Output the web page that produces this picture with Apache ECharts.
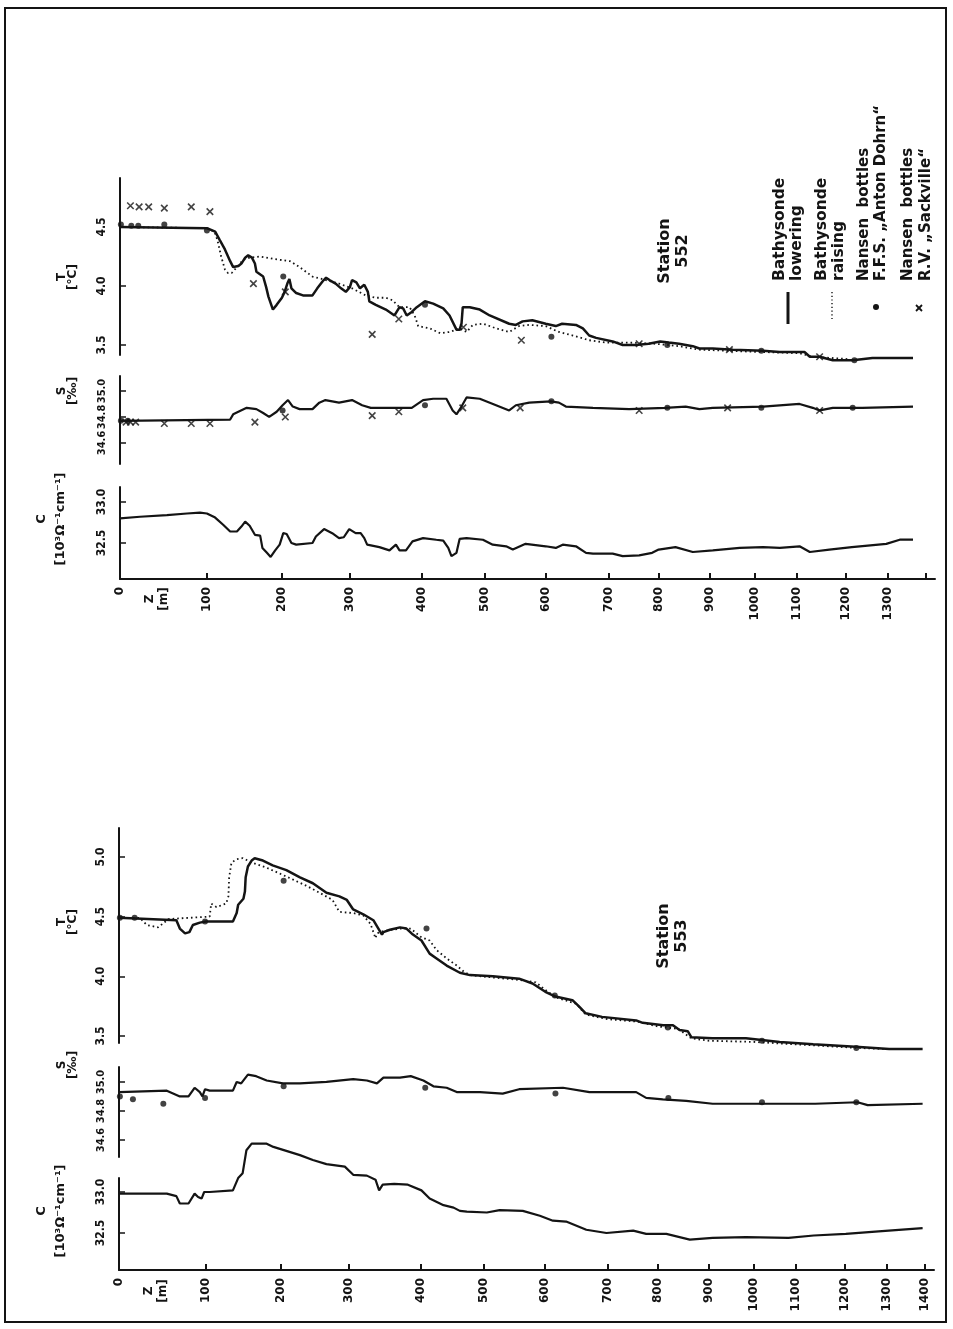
<!DOCTYPE html>
<html>
<head>
<meta charset="UTF-8">
<title>Bathysonde stations 552 / 553</title>
<style>
  body { margin: 0; background: #fff; }
  #main { width: 953px; height: 1329px; }
</style>
<script src="https://cdn.jsdelivr.net/npm/echarts@6/dist/echarts.min.js"></script>
</head>
<body>
<div id="main"></div>
<script>
// Z axis of the plate is not linear: where each depth tick sits (0..1 of the 0-1400 m span)
var depthTicks = [0, 100, 200, 300, 400, 500, 600, 700, 800, 900, 1000, 1100, 1200, 1300, 1400];
var depthTickPlace = [0, 0.1079, 0.2010, 0.2854, 0.3747, 0.4529, 0.5285, 0.6067, 0.6687, 0.7320, 0.7878, 0.8400, 0.9007, 0.9529, 1];

// value axis ticks
var tTicks552 = [3.5, 4.0, 4.5];
var tTicks553 = [3.5, 4.0, 4.5, 5.0];
var sTicks = [34.6, 34.8, 35.0];
var cTicks = [32.5, 33.0];

// ---- Station 552 ----  [depth m, value]
var st552TLower = [[0,4.50],[100,4.49],[111,4.46],[117,4.39],[124,4.31],[131,4.21],[135,4.16],[142,4.17],[146,4.19],[151,4.24],[155,4.26],[160,4.24],[164,4.19],[166,4.12],[175,4.08],[179,3.99],[182,3.91],[188,3.80],[193,3.84],[200,3.90],[204,3.95],[208,4.02],[211,4.06],[214,3.98],[221,3.94],[231,3.92],[245,3.92],[252,3.98],[260,4.04],[265,4.07],[270,4.05],[279,4.02],[287,3.98],[294,3.95],[300,3.99],[303,4.05],[309,4.03],[314,3.98],[320,4.01],[325,3.95],[327,3.87],[336,3.84],[350,3.80],[362,3.75],[369,3.82],[374,3.81],[379,3.75],[386,3.78],[393,3.82],[405,3.87],[418,3.85],[434,3.81],[444,3.75],[455,3.63],[460,3.63],[463,3.68],[465,3.82],[476,3.82],[492,3.80],[508,3.75],[540,3.68],[551,3.67],[562,3.70],[578,3.71],[600,3.68],[616,3.66],[626,3.68],[648,3.67],[659,3.64],[669,3.58],[680,3.56],[708,3.53],[728,3.50],[754,3.50],[780,3.51],[803,3.53],[820,3.52],[840,3.51],[867,3.49],[880,3.47],[907,3.47],[952,3.46],[1020,3.45],[1060,3.44],[1116,3.44],[1127,3.40],[1147,3.40],[1174,3.37],[1217,3.37],[1264,3.39],[1323,3.39],[1367,3.39]];
var st552TRaise = [[0,4.50],[100,4.49],[110,4.46],[114,4.39],[119,4.25],[124,4.14],[128,4.11],[133,4.11],[140,4.16],[148,4.22],[157,4.24],[171,4.25],[188,4.23],[212,4.21],[226,4.16],[245,4.08],[265,4.05],[284,4.02],[303,3.98],[322,3.92],[336,3.90],[350,3.90],[359,3.88],[369,3.82],[383,3.82],[390,3.75],[395,3.66],[413,3.64],[429,3.60],[444,3.61],[460,3.64],[471,3.61],[481,3.67],[497,3.68],[519,3.64],[540,3.61],[556,3.66],[573,3.67],[600,3.66],[621,3.61],[643,3.58],[669,3.54],[696,3.52],[741,3.52],[794,3.51],[840,3.49],[880,3.46],[944,3.45],[1019,3.44],[1106,3.43],[1133,3.40],[1208,3.38]];
var st552TDohrn = [[1,4.52],[13,4.51],[21,4.51],[51,4.52],[100,4.47],[202,4.08],[405,3.84],[609,3.57],[817,3.50],[1016,3.45],[1221,3.37]];
var st552TSackville = [[12,4.68],[22,4.67],[33,4.67],[51,4.66],[82,4.67],[104,4.63],[162,4.02],[205,3.95],[331,3.59],[368,3.72],[466,3.65],[560,3.54],[761,3.51],[944,3.46],[1147,3.40]];

var st552SLower = [[0,34.77],[131,34.78],[135,34.82],[153,34.87],[166,34.86],[175,34.83],[183,34.80],[193,34.84],[201,34.89],[209,34.93],[216,34.88],[226,34.86],[245,34.86],[255,34.91],[264,34.93],[284,34.91],[303,34.93],[317,34.89],[329,34.87],[369,34.87],[386,34.87],[402,34.93],[418,34.94],[439,34.94],[449,34.85],[455,34.82],[463,34.88],[471,34.95],[492,34.94],[540,34.85],[551,34.89],[573,34.91],[608,34.92],[621,34.91],[632,34.88],[675,34.87],[741,34.86],[813,34.87],[853,34.88],[880,34.86],[907,34.87],[1020,34.88],[1106,34.90],[1133,34.87],[1147,34.85],[1174,34.87],[1240,34.87],[1367,34.88]];
var st552SDohrn = [[1,34.77],[9,34.77],[201,34.85],[405,34.89],[609,34.92],[817,34.87],[1016,34.87],[1217,34.87]];
var st552SSackville = [[7,34.76],[12,34.76],[18,34.76],[51,34.75],[82,34.75],[104,34.75],[164,34.76],[205,34.80],[331,34.81],[368,34.84],[465,34.87],[558,34.87],[761,34.85],[940,34.87],[1147,34.85]];

var st552C = [[0,32.80],[23,32.82],[54,32.84],[77,32.86],[92,32.87],[100,32.86],[111,32.81],[122,32.72],[131,32.64],[140,32.64],[146,32.70],[151,32.76],[157,32.71],[164,32.60],[171,32.59],[174,32.44],[180,32.38],[185,32.33],[191,32.41],[197,32.48],[202,32.62],[207,32.61],[214,32.50],[221,32.48],[245,32.50],[250,32.58],[262,32.67],[274,32.62],[284,32.56],[291,32.57],[299,32.67],[308,32.62],[315,32.62],[320,32.56],[324,32.48],[341,32.45],[355,32.41],[364,32.48],[369,32.41],[378,32.41],[387,32.52],[402,32.56],[423,32.54],[434,32.53],[442,32.44],[447,32.34],[455,32.38],[460,32.55],[471,32.56],[497,32.54],[513,32.48],[535,32.46],[546,32.42],[567,32.49],[600,32.46],[616,32.44],[627,32.48],[648,32.46],[664,32.38],[675,32.37],[708,32.37],[728,32.34],[761,32.35],[787,32.38],[800,32.42],[833,32.45],[867,32.39],[907,32.41],[967,32.44],[1020,32.45],[1060,32.44],[1106,32.46],[1127,32.39],[1167,32.42],[1215,32.45],[1297,32.49],[1332,32.54],[1367,32.54]];

// ---- Station 553 ----
var st553TLower = [[0,4.49],[66,4.47],[70,4.40],[76,4.36],[81,4.37],[85,4.43],[93,4.45],[100,4.46],[136,4.46],[141,4.53],[143,4.60],[150,4.65],[152,4.71],[153,4.83],[156,4.92],[161,4.97],[165,4.99],[176,4.97],[189,4.93],[208,4.89],[228,4.83],[247,4.78],[267,4.70],[286,4.67],[297,4.64],[306,4.56],[320,4.52],[334,4.47],[341,4.40],[346,4.35],[348,4.37],[357,4.39],[371,4.41],[380,4.40],[389,4.35],[401,4.30],[414,4.19],[425,4.15],[441,4.09],[462,4.03],[478,4.01],[515,4.00],[558,3.98],[580,3.94],[601,3.87],[617,3.83],[644,3.80],[654,3.75],[665,3.69],[691,3.66],[757,3.63],[770,3.61],[811,3.59],[830,3.59],[843,3.55],[859,3.54],[866,3.49],[908,3.48],[983,3.48],[1062,3.45],[1136,3.43],[1226,3.41],[1307,3.39],[1395,3.39]];
var st553TRaise = [[0,4.49],[24,4.49],[32,4.43],[45,4.41],[57,4.48],[105,4.50],[107,4.61],[114,4.58],[127,4.61],[130,4.67],[131,4.83],[134,4.95],[140,4.98],[149,4.99],[156,4.97],[163,4.95],[181,4.91],[199,4.86],[218,4.81],[237,4.76],[257,4.70],[276,4.64],[286,4.54],[306,4.53],[320,4.51],[330,4.44],[337,4.32],[339,4.36],[348,4.38],[371,4.40],[386,4.40],[400,4.33],[414,4.30],[425,4.22],[441,4.15],[457,4.09],[468,4.04],[478,4.01],[515,3.99],[558,3.97],[585,3.95],[605,3.87],[620,3.82],[650,3.77],[665,3.68],[700,3.64],[760,3.62],[800,3.58],[840,3.56],[866,3.48],[900,3.46],[1000,3.45],[1100,3.43],[1230,3.40],[1300,3.39]];
var st553TDohrn = [[1,4.49],[18,4.49],[99,4.46],[204,4.80],[409,4.40],[616,3.84],[820,3.57],[1020,3.46],[1228,3.40]];

var st553SLower = [[0,34.93],[55,34.94],[70,34.90],[80,34.90],[87,34.96],[93,34.93],[96,34.90],[99,34.95],[105,34.94],[136,34.94],[141,35.00],[147,34.99],[156,35.05],[167,35.04],[181,35.01],[203,34.99],[228,34.99],[267,35.00],[306,35.02],[325,35.01],[339,34.99],[348,35.03],[371,35.03],[386,35.04],[404,35.01],[420,34.97],[441,34.96],[457,34.93],[494,34.93],[531,34.92],[558,34.95],[629,34.96],[671,34.93],[757,34.93],[777,34.89],[810,34.88],[856,34.87],[909,34.85],[983,34.85],[1140,34.85],[1231,34.86],[1255,34.84],[1395,34.85]];
var st553SDohrn = [[1,34.90],[16,34.88],[51,34.85],[99,34.89],[204,34.97],[407,34.96],[617,34.92],[821,34.89],[1020,34.86],[1228,34.86]];

var st553C = [[0,32.98],[55,32.98],[66,32.95],[70,32.86],[80,32.86],[87,32.98],[91,32.94],[95,32.92],[98,33.00],[105,33.00],[136,33.02],[143,33.17],[149,33.23],[154,33.51],[161,33.59],[181,33.59],[190,33.55],[228,33.45],[247,33.39],[267,33.34],[294,33.31],[306,33.21],[325,33.20],[337,33.15],[342,33.02],[347,33.09],[363,33.10],[382,33.09],[401,33.02],[414,32.92],[436,32.84],[452,32.81],[462,32.77],[473,32.76],[505,32.75],[526,32.78],[564,32.77],[592,32.71],[613,32.65],[634,32.64],[666,32.54],[698,32.50],[751,32.53],[777,32.49],[817,32.49],[863,32.42],[909,32.44],[983,32.45],[1083,32.44],[1137,32.47],[1203,32.49],[1281,32.52],[1395,32.56]];

// depth -> place on the stretched Z axis
function warp(d) {
  var n = depthTicks.length;
  var i = 0;
  while (i < n - 2 && d > depthTicks[i + 1]) i++;
  var f = (d - depthTicks[i]) / (depthTicks[i + 1] - depthTicks[i]);
  return depthTickPlace[i] + f * (depthTickPlace[i + 1] - depthTickPlace[i]);
}
function depthLabel(v) {
  for (var i = 0; i < depthTicks.length; i++) {
    if (Math.abs(warp(depthTicks[i]) - v) < 1e-6) return String(depthTicks[i]);
  }
  return '';
}
function pts(arr) { return arr.map(function (p) { return [warp(p[0]), p[1]]; }); }

var INK = '#141414';
var FONT = 'DejaVu Sans';
var zMax = warp(1425);

var grids = [
  { left: 120, top: 178, width: 815, height: 177 },
  { left: 120, top: 376, width: 815, height: 88 },
  { left: 120, top: 487, width: 815, height: 92 },
  { left: 119, top: 828, width: 815, height: 215 },
  { left: 119, top: 1067, width: 815, height: 90 },
  { left: 119, top: 1178, width: 815, height: 92 }
];
grids.forEach(function (g) { g.containLabel = false; g.outerBoundsMode = 'none'; });

var yRanges = [
  { min: 3.415, max: 4.915, ticks: tTicks552, size: 12 },
  { min: 34.438, max: 35.115, ticks: sTicks, size: 11 },
  { min: 32.061, max: 33.183, ticks: cTicks, size: 12 },
  { min: 3.441, max: 5.243, ticks: tTicks553, size: 12 },
  { min: 34.483, max: 35.103, ticks: sTicks, size: 11 },
  { min: 32.049, max: 33.171, ticks: cTicks, size: 12 }
];

var xAxes = grids.map(function (g, i) {
  var isC = (i === 2 || i === 5);
  var labelTicks = (i === 2) ? depthTicks.slice(0, 14) : depthTicks;
  return {
    type: 'value', gridIndex: i, min: 0, max: zMax, show: isC,
    axisLine: { show: true, lineStyle: { color: INK, width: 2 } },
    axisTick: { show: true, inside: true, length: 6, customValues: depthTicks.map(warp), lineStyle: { color: INK, width: 2 } },
    axisLabel: {
      show: true, customValues: labelTicks.map(warp), rotate: 90, margin: 8, hideOverlap: false,
      formatter: depthLabel, color: INK, fontFamily: FONT, fontWeight: 'bold', fontSize: 12
    },
    splitLine: { show: false }
  };
});

var yAxes = yRanges.map(function (r, i) {
  return {
    type: 'value', gridIndex: i, min: r.min, max: r.max,
    axisLine: { show: true, lineStyle: { color: INK, width: 2 } },
    axisTick: { show: true, inside: true, length: 6, customValues: r.ticks, lineStyle: { color: INK, width: 1.5 } },
    axisLabel: {
      customValues: r.ticks, rotate: 90, margin: 12, hideOverlap: false,
      formatter: function (v) { return v.toFixed(1); },
      color: INK, fontFamily: 'DejaVu Sans Condensed', fontWeight: 'bold', fontSize: r.size
    },
    splitLine: { show: false }
  };
});

function solid(data, idx, w) {
  return { type: 'line', xAxisIndex: idx, yAxisIndex: idx, data: pts(data), symbol: 'none', clip: false,
    lineStyle: { color: INK, width: w || 2.2 }, z: 3 };
}
function dotted(data, idx) {
  return { type: 'line', xAxisIndex: idx, yAxisIndex: idx, data: pts(data), symbol: 'none', clip: false,
    lineStyle: { color: INK, width: 1.8, type: [1.6, 3] }, z: 2 };
}
function dots(data, idx) {
  return { type: 'scatter', xAxisIndex: idx, yAxisIndex: idx, data: pts(data), symbol: 'circle', symbolSize: 6,
    clip: false, itemStyle: { color: INK }, z: 4 };
}
var crossPath = 'path://M0,0L10,10M10,0L0,10';
function crosses(data, idx) {
  return { type: 'scatter', xAxisIndex: idx, yAxisIndex: idx, data: pts(data), symbol: crossPath, symbolSize: 6.5,
    clip: false, itemStyle: { color: 'none', borderColor: INK, borderWidth: 1.6 }, z: 4 };
}

var series = [
  dotted(st552TRaise, 0), solid(st552TLower, 0, 2.5), dots(st552TDohrn, 0), crosses(st552TSackville, 0),
  solid(st552SLower, 1), dots(st552SDohrn, 1), crosses(st552SSackville, 1),
  solid(st552C, 2),
  dotted(st553TRaise, 3), solid(st553TLower, 3, 2.5), dots(st553TDohrn, 3),
  solid(st553SLower, 4), dots(st553SDohrn, 4),
  solid(st553C, 5)
];

function vtext(x, y, txt, size, lh, align, valign) {
  return { type: 'text', x: x, y: y, rotation: Math.PI / 2, z: 10,
    style: { text: txt, fill: INK, fontFamily: FONT, fontWeight: 'bold', fontSize: size, lineHeight: lh,
      align: align || 'center', verticalAlign: valign || 'middle' } };
}

var graphics = [
  { type: 'rect', shape: { x: 5, y: 8, width: 941, height: 1314 }, style: { fill: 'none', stroke: INK, lineWidth: 2 } },
  // axis names, station 552
  vtext(67, 277, 'T\n[°C]', 12, 11),
  vtext(67, 391, 'S\n[‰]', 12, 11),
  vtext(51, 519, 'C\n[10³Ω⁻¹cm⁻¹]', 13, 19),
  vtext(157, 599, 'Z\n[m]', 12, 14),
  // axis names, station 553
  vtext(67, 922, 'T\n[°C]', 12, 11),
  vtext(67, 1065, 'S\n[‰]', 12, 11),
  vtext(51, 1211, 'C\n[10³Ω⁻¹cm⁻¹]', 13, 19),
  vtext(156, 1291, 'Z\n[m]', 12, 14),
  // station labels
  vtext(674, 251, 'Station\n552', 16, 18),
  vtext(673, 936, 'Station\n553', 16, 18),
  // legend
  vtext(771, 281, 'Bathysonde\nlowering', 15.5, 17, 'left', 'top'),
  vtext(813, 281, 'Bathysonde\nraising', 15.5, 17, 'left', 'top'),
  vtext(856, 281, 'Nansen  bottles\nF.F.S. „Anton Dohrn“', 15, 17, 'left', 'top'),
  vtext(899, 281, 'Nansen  bottles\nR.V. „Sackville“', 15, 18, 'left', 'top'),
  { type: 'line', shape: { x1: 788, y1: 292, x2: 788, y2: 324 }, style: { stroke: INK, lineWidth: 3 } },
  { type: 'line', shape: { x1: 832, y1: 292, x2: 832, y2: 320 }, style: { stroke: INK, lineWidth: 1.4, lineDash: [1.2, 2.5] } },
  { type: 'circle', shape: { cx: 876, cy: 307, r: 3 }, style: { fill: INK } },
  { type: 'line', shape: { x1: 916, y1: 305, x2: 922, y2: 311 }, style: { stroke: INK, lineWidth: 1.8 } },
  { type: 'line', shape: { x1: 922, y1: 305, x2: 916, y2: 311 }, style: { stroke: INK, lineWidth: 1.8 } }
];

var chart = echarts.init(document.getElementById('main'), null, { renderer: 'canvas' });
chart.setOption({
  animation: false,
  backgroundColor: '#fff',
  grid: grids,
  xAxis: xAxes,
  yAxis: yAxes,
  series: series,
  graphic: graphics
});
</script>
</body>
</html>
